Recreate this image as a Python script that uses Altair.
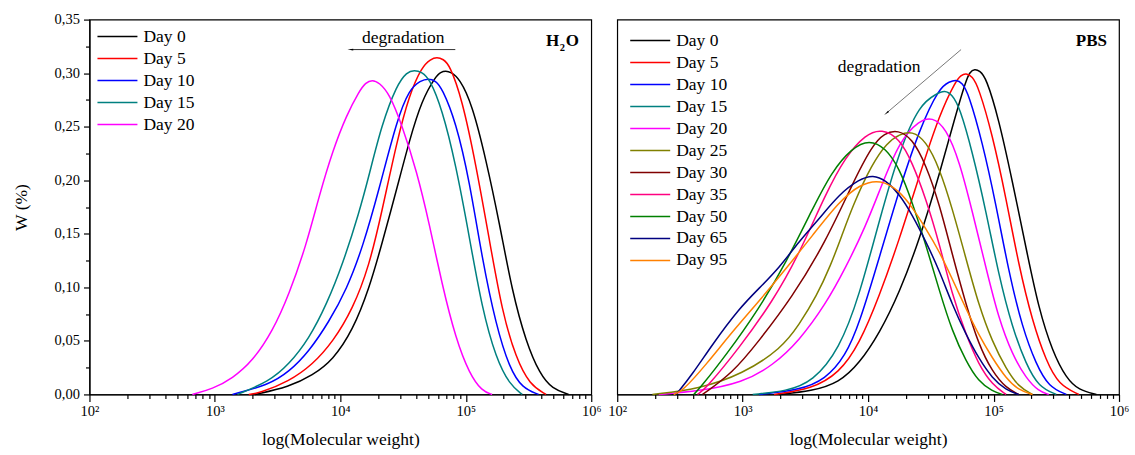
import altair as alt
import pandas as pd

FONT = "Liberation Serif, Times New Roman, DejaVu Serif, serif"

# ---- H2O: (log10 molecular weight, W %) pairs per sampling day ----
h2o_day0 = [(3.32, 0.0), (3.59, 0.007), (3.78, 0.018), (3.94, 0.032), (4.10, 0.060),
            (4.23, 0.099), (4.33, 0.140), (4.45, 0.192), (4.55, 0.237), (4.65, 0.275),
            (4.76, 0.297), (4.80, 0.301), (4.84, 0.302), (4.88, 0.301), (4.95, 0.295),
            (5.05, 0.271), (5.16, 0.220), (5.27, 0.159), (5.37, 0.096), (5.48, 0.049),
            (5.59, 0.019), (5.69, 0.005), (5.82, 0.0)]
h2o_day5 = [(3.27, 0.0), (3.35, 0.001), (3.59, 0.012), (3.78, 0.028), (3.94, 0.049),
            (4.10, 0.080), (4.23, 0.120), (4.33, 0.170), (4.45, 0.236), (4.55, 0.280),
            (4.65, 0.306), (4.72, 0.313), (4.77, 0.315), (4.82, 0.313), (4.87, 0.308),
            (4.97, 0.276), (5.08, 0.215), (5.19, 0.143), (5.29, 0.077), (5.40, 0.034),
            (5.51, 0.009), (5.64, 0.0)]
h2o_day10 = [(3.14, 0.0), (3.43, 0.009), (3.59, 0.021), (3.75, 0.040), (3.91, 0.068),
             (4.05, 0.098), (4.18, 0.138), (4.31, 0.192), (4.45, 0.256), (4.55, 0.285),
             (4.64, 0.293), (4.70, 0.295), (4.76, 0.293), (4.81, 0.286), (4.92, 0.255),
             (5.03, 0.199), (5.13, 0.127), (5.24, 0.065), (5.35, 0.024), (5.45, 0.006),
             (5.58, 0.0)]
h2o_day15 = [(3.18, 0.0), (3.43, 0.012), (3.59, 0.028), (3.75, 0.052), (3.89, 0.084),
             (4.02, 0.122), (4.15, 0.170), (4.23, 0.205), (4.33, 0.252), (4.45, 0.289),
             (4.53, 0.301), (4.59, 0.303), (4.65, 0.301), (4.71, 0.295), (4.81, 0.267),
             (4.92, 0.215), (5.03, 0.146), (5.13, 0.080), (5.24, 0.034), (5.35, 0.009),
             (5.45, 0.0)]
h2o_day20 = [(2.82, 0.0), (2.98, 0.005), (3.14, 0.015), (3.30, 0.031), (3.46, 0.059),
             (3.59, 0.093), (3.73, 0.140), (3.83, 0.185), (3.94, 0.228), (4.05, 0.261),
             (4.15, 0.283), (4.20, 0.291), (4.255, 0.294), (4.31, 0.291), (4.39, 0.281),
             (4.49, 0.252), (4.61, 0.208), (4.71, 0.159), (4.81, 0.103), (4.92, 0.052),
             (5.03, 0.019), (5.13, 0.003), (5.21, 0.0)]

# ---- PBS ----
pbs_day0 = [(3.29, 0.0), (3.55, 0.003), (3.77, 0.011), (3.93, 0.029), (4.09, 0.057),
            (4.25, 0.095), (4.41, 0.145), (4.57, 0.206), (4.70, 0.262), (4.78, 0.293),
            (4.81, 0.301), (4.85, 0.304), (4.89, 0.302), (4.94, 0.296), (5.04, 0.258),
            (5.15, 0.199), (5.26, 0.136), (5.36, 0.080), (5.47, 0.040), (5.58, 0.015),
            (5.68, 0.004), (5.82, 0.0)]
pbs_day5 = [(3.25, 0.0), (3.55, 0.005), (3.77, 0.020), (3.93, 0.047), (4.09, 0.092),
            (4.25, 0.145), (4.41, 0.205), (4.57, 0.262), (4.70, 0.293), (4.74, 0.298),
            (4.78, 0.300), (4.83, 0.297), (4.88, 0.287), (4.99, 0.243), (5.10, 0.183),
            (5.20, 0.121), (5.31, 0.068), (5.42, 0.031), (5.52, 0.009), (5.68, 0.0)]
pbs_day10 = [(3.13, 0.0), (3.45, 0.004), (3.66, 0.014), (3.82, 0.036), (3.93, 0.066),
             (4.09, 0.128), (4.25, 0.192), (4.41, 0.248), (4.57, 0.287), (4.65, 0.292),
             (4.70, 0.294), (4.75, 0.291), (4.80, 0.281), (4.91, 0.236), (5.02, 0.177),
             (5.12, 0.115), (5.23, 0.062), (5.34, 0.028), (5.44, 0.007), (5.58, 0.0)]
pbs_day15 = [(3.08, 0.0), (3.35, 0.003), (3.56, 0.012), (3.77, 0.042), (3.93, 0.092),
             (4.09, 0.163), (4.25, 0.228), (4.41, 0.271), (4.55, 0.281), (4.61, 0.284),
             (4.67, 0.280), (4.73, 0.268), (4.83, 0.227), (4.94, 0.171), (5.04, 0.112),
             (5.15, 0.062), (5.26, 0.028), (5.36, 0.007), (5.50, 0.0)]
pbs_day20 = [(2.33, 0.0), (2.65, 0.003), (3.00, 0.011), (3.24, 0.027), (3.45, 0.050),
             (3.66, 0.084), (3.82, 0.118), (3.98, 0.157), (4.09, 0.190), (4.25, 0.237),
             (4.41, 0.256), (4.51, 0.259), (4.62, 0.249), (4.73, 0.217), (4.83, 0.171),
             (4.94, 0.118), (5.04, 0.071), (5.15, 0.037), (5.26, 0.015), (5.36, 0.003),
             (5.44, 0.0)]
pbs_day25 = [(2.28, 0.0), (2.65, 0.005), (3.00, 0.019), (3.31, 0.043), (3.45, 0.065),
             (3.59, 0.092), (3.70, 0.120), (3.79, 0.148), (3.88, 0.177), (4.03, 0.215),
             (4.15, 0.235), (4.25, 0.243), (4.35, 0.246), (4.46, 0.237), (4.57, 0.211),
             (4.67, 0.174), (4.78, 0.127), (4.88, 0.084), (4.99, 0.049), (5.10, 0.024),
             (5.20, 0.007), (5.31, 0.0)]
pbs_day30 = [(2.68, 0.0), (2.92, 0.020), (3.13, 0.050), (3.39, 0.090), (3.66, 0.142),
             (3.88, 0.198), (4.03, 0.232), (4.13, 0.244), (4.24, 0.247), (4.35, 0.239),
             (4.46, 0.215), (4.57, 0.177), (4.67, 0.131), (4.78, 0.084), (4.88, 0.047),
             (4.99, 0.021), (5.10, 0.006), (5.20, 0.0)]
pbs_day35 = [(2.64, 0.0), (2.71, 0.006), (2.97, 0.043), (3.24, 0.087), (3.45, 0.131),
             (3.66, 0.187), (3.82, 0.222), (3.98, 0.243), (4.11, 0.248), (4.25, 0.239),
             (4.35, 0.217), (4.46, 0.183), (4.57, 0.140), (4.67, 0.093), (4.78, 0.056),
             (4.88, 0.028), (4.99, 0.009), (5.10, 0.0)]
pbs_day50 = [(2.61, 0.0), (2.66, 0.006), (2.87, 0.037), (3.13, 0.080), (3.35, 0.124),
             (3.56, 0.174), (3.71, 0.208), (3.87, 0.230), (4.01, 0.238), (4.14, 0.230),
             (4.25, 0.211), (4.35, 0.180), (4.46, 0.140), (4.57, 0.096), (4.67, 0.059),
             (4.78, 0.031), (4.88, 0.012), (4.99, 0.003), (5.07, 0.0)]
pbs_day65 = [(2.47, 0.0), (2.60, 0.019), (2.76, 0.047), (2.97, 0.080), (3.13, 0.099),
             (3.29, 0.118), (3.45, 0.143), (3.61, 0.164), (3.77, 0.187), (3.93, 0.201),
             (4.04, 0.205), (4.14, 0.200), (4.25, 0.187), (4.35, 0.168), (4.46, 0.143),
             (4.57, 0.115), (4.67, 0.084), (4.78, 0.056), (4.88, 0.034), (4.99, 0.015),
             (5.10, 0.004), (5.20, 0.0)]
pbs_day95 = [(2.45, 0.0), (2.52, 0.003), (2.71, 0.028), (2.92, 0.059), (3.13, 0.087),
             (3.35, 0.118), (3.56, 0.149), (3.77, 0.180), (3.93, 0.196), (4.10, 0.201),
             (4.25, 0.190), (4.35, 0.175), (4.46, 0.155), (4.57, 0.133), (4.67, 0.108),
             (4.78, 0.080), (4.88, 0.056), (4.99, 0.034), (5.10, 0.015), (5.20, 0.004),
             (5.31, 0.0)]

H2O_DAYS = ["Day 0", "Day 5", "Day 10", "Day 15", "Day 20"]
H2O_COLORS = ["#000000", "#ff0000", "#0000ff", "#008080", "#ff00ff"]
H2O_CURVES = [h2o_day0, h2o_day5, h2o_day10, h2o_day15, h2o_day20]

PBS_DAYS = ["Day 0", "Day 5", "Day 10", "Day 15", "Day 20", "Day 25",
            "Day 30", "Day 35", "Day 50", "Day 65", "Day 95"]
PBS_COLORS = ["#000000", "#ff0000", "#0000ff", "#008080", "#ff00ff", "#808000",
              "#800000", "#ff0080", "#008000", "#000080", "#ff8000"]
PBS_CURVES = [pbs_day0, pbs_day5, pbs_day10, pbs_day15, pbs_day20, pbs_day25,
              pbs_day30, pbs_day35, pbs_day50, pbs_day65, pbs_day95]

DECADES = [100, 1000, 10000, 100000, 1000000]
X_MINOR = [m * d for d in [100, 1000, 10000, 100000] for m in range(2, 10)]
Y_MAJOR = [0.0, 0.05, 0.10, 0.15, 0.20, 0.25, 0.30, 0.35]
Y_MINOR = [0.025, 0.075, 0.125, 0.175, 0.225, 0.275, 0.325]


def frame(days, curves):
    rows = []
    for day, pts in zip(days, curves):
        for lm, w in pts:
            rows.append({"day": day, "mw": 10 ** lm, "w": w})
    return pd.DataFrame(rows)


X_SCALE = alt.Scale(type="log", domain=[100, 1000000], nice=False)
Y_SCALE = alt.Scale(domain=[0, 0.35], nice=False, zero=False)

SUPER = "['⁰','¹','²','³','⁴','⁵','⁶'][round(log(datum.value) / LN10)]"

x_major = alt.Axis(values=DECADES, orient="bottom", labelExpr="'10' + " + SUPER,
                   tickSize=7, labelPadding=3, labelFont=FONT, labelFontSize=14.5,
                   labelColor="black", title="log(Molecular weight)", titleFont=FONT,
                   titleFontSize=17.5, titleFontWeight="normal", titleColor="black",
                   titlePadding=13, grid=False, domainColor="black", domainWidth=1.2,
                   tickColor="black", tickWidth=1.2, labelFlush=False)
x_minor = alt.Axis(values=X_MINOR, orient="bottom", labels=False, tickSize=4,
                   title=None, grid=False, domain=False, tickColor="black", tickWidth=1.2)
y_major = alt.Axis(values=Y_MAJOR, orient="left",
                   labelExpr="replace(format(datum.value, '.2f'), '.', ',')",
                   tickSize=6, labelPadding=4, labelFont=FONT, labelFontSize=14.5,
                   labelColor="black", title="W (%)", titleFont=FONT, titleFontSize=17.5,
                   titleFontWeight="normal", titleColor="black", titlePadding=24,
                   grid=False, domainColor="black", domainWidth=1.2, tickColor="black",
                   tickWidth=1.2, labelFlush=False)
y_minor = alt.Axis(values=Y_MINOR, orient="left", labels=False, tickSize=4, title=None,
                   grid=False, domain=False, tickColor="black", tickWidth=1.2)

CORNERS = pd.DataFrame({"mw": [100, 1000000], "w": [0.0, 0.35]})


def text_layer(label, x, y, size=17.5, weight="normal", align="center", color="black"):
    return alt.Chart(pd.DataFrame({"t": [label]})).mark_text(
        font=FONT, fontSize=size, fontWeight=weight, align=align, baseline="middle",
        color=color).encode(x=alt.value(x), y=alt.value(y), text="t:N")


def arrow_layer(x0, y0, x1, y1, angle, color):
    line = alt.Chart(pd.DataFrame({"k": [0]})).mark_rule(
        color=color, strokeWidth=1).encode(
        x=alt.value(x0), y=alt.value(y0), x2=alt.value(x1), y2=alt.value(y1))
    head = alt.Chart(pd.DataFrame({"k": [0]})).mark_point(
        shape="wedge", filled=True, size=45, color="black", angle=angle, opacity=1).encode(
        x=alt.value(x1), y=alt.value(y1))
    return [line, head]


def panel(days, colors, curves, show_y, leg_x, leg_y, notes):
    df = frame(days, curves)
    lines = alt.Chart(df).mark_line(interpolate="basis", strokeWidth=1.5).encode(
        x=alt.X("mw:Q", scale=X_SCALE, axis=x_major),
        y=alt.Y("w:Q", scale=Y_SCALE, axis=y_major if show_y else None),
        color=alt.Color("day:N", sort=days,
                        scale=alt.Scale(domain=days, range=colors),
                        legend=alt.Legend(title=None, orient="none", legendX=leg_x,
                                          legendY=leg_y, symbolType="stroke",
                                          symbolSize=1600, symbolStrokeWidth=1.5,
                                          clipHeight=22, rowPadding=0, padding=0,
                                          labelFont=FONT, labelFontSize=17.5,
                                          labelColor="black", labelOffset=5)),
        detail="day:N",
    )
    minor = alt.Chart(CORNERS).mark_point(opacity=0).encode(
        x=alt.X("mw:Q", scale=X_SCALE, axis=x_minor),
        y=alt.Y("w:Q", scale=Y_SCALE, axis=y_minor if show_y else None),
    )
    return alt.layer(minor, lines, *notes).resolve_axis(
        x="independent", y="independent").properties(width=502, height=375)


h2o_notes = [text_layer("degradation", 314, 18)] + arrow_layer(366, 30, 262, 30, 270, "#333333") + [
    text_layer("H", 470, 21, size=17, weight="bold", align="right"),
    text_layer("2", 470.5, 28, size=10.5, weight="bold", align="left"),
    text_layer("O", 476.5, 21, size=17, weight="bold", align="left"),
]
pbs_notes = [text_layer("degradation", 262, 47)] + arrow_layer(344, 30, 270, 93, 230, "#777777") + [
    text_layer("PBS", 490, 21, size=17, weight="bold", align="right"),
]

left = panel(H2O_DAYS, H2O_COLORS, H2O_CURVES, True, 7, 6, h2o_notes)
right = panel(PBS_DAYS, PBS_COLORS, PBS_CURVES, False, 12, 10, pbs_notes)

chart = alt.hconcat(left, right, spacing=26, bounds="flush").resolve_scale(
    color="independent").resolve_legend(color="independent").properties(
    padding={"left": 11.5, "top": 10.5, "right": 5, "bottom": 0},
    autosize=alt.AutoSizeParams(type="pad"),
).configure_view(stroke="black", strokeWidth=1.2)

chart.save("out.html", embed_options={"renderer": "svg", "actions": False})
